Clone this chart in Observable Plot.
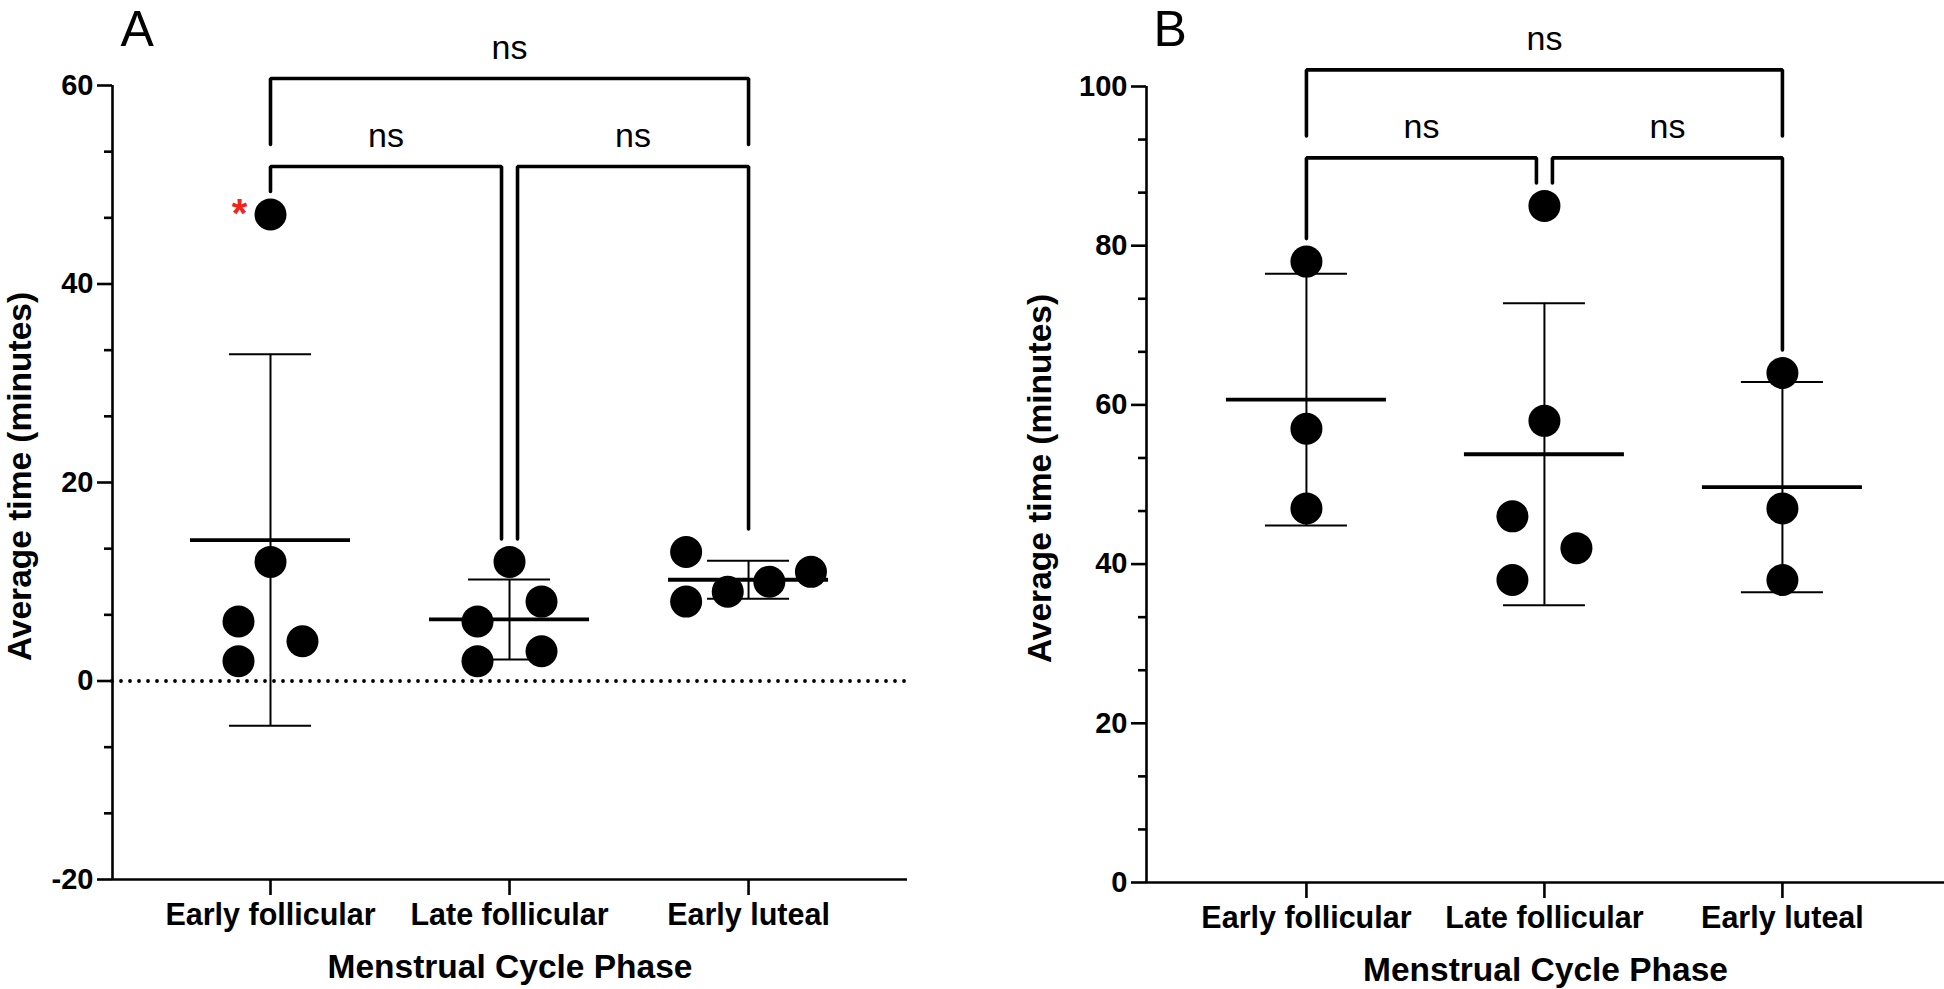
<!DOCTYPE html>
<html>
<head>
<meta charset="utf-8">
<script src="https://cdn.jsdelivr.net/npm/d3@7"></script>
<script src="https://cdn.jsdelivr.net/npm/@observablehq/plot@0.6"></script>
<style>
  body { margin: 0; background: #fff; }
  #wrap { position: relative; width: 1944px; height: 989px; overflow: hidden; background: #fff; }
  .panel { position: absolute; top: 0; width: 972px; height: 989px; }
</style>
</head>
<body>
<div id="wrap">
  <div id="pa" class="panel" style="left:0px"></div>
  <div id="pb" class="panel" style="left:972px"></div>
</div>
<script>
// ---------------- data ----------------
const phases = ["Early follicular", "Late follicular", "Early luteal"];

// Panel A — average time (minutes)
const aEarlyFollicular = [47, 12, 6, 4, 2];
const aLateFollicular  = [12, 8, 6, 3, 2];
const aEarlyLuteal     = [13, 11, 10, 9, 8];

// Panel B — average time (minutes)
const bEarlyFollicular = [78, 57, 47];
const bLateFollicular  = [85, 58, 46, 42, 38];
const bEarlyLuteal     = [64, 47, 38];

const aYTicks = [-20, 0, 20, 40, 60];
const bYTicks = [0, 20, 40, 60, 80, 100];

const comparisons = [[0, 1], [1, 2], [0, 2]];
const comparisonLabels = ["ns", "ns", "ns"];
const aFlagged = [[0, 47]];   // [group, value] marked with a red asterisk
const bFlagged = [];

const yTitle = "Average time (minutes)";
const xTitle = "Menstrual Cycle Phase";

// ---------------- helpers ----------------
const FONT = "'Liberation Sans', Arial, Helvetica, sans-serif";
const R = 16;

// PRISM-like scatter arrangement: clusters of overlapping points zig-zag,
// dense clusters are spread over several columns.
function layoutGroup(values, gi, pxX, pxY) {
  const pts = values.map(v => ({gi, value: v, off: 0}));
  const sorted = pts.slice().sort((a, b) => a.value - b.value);
  const thr = 2 * R * 1.06;
  const clusters = [];
  let cur = [sorted[0]];
  for (let k = 1; k < sorted.length; k++) {
    if ((sorted[k].value - sorted[k - 1].value) * pxY < thr) cur.push(sorted[k]);
    else { clusters.push(cur); cur = [sorted[k]]; }
  }
  clusters.push(cur);
  const collides = (c) => {
    for (let i = 0; i < c.length; i++) for (let j = i + 1; j < c.length; j++) {
      const dx = c[i].off - c[j].off, dy = (c[i].value - c[j].value) * pxY;
      if (Math.hypot(dx, dy) < 2 * R - 0.5) return true;
    }
    return false;
  };
  for (const c of clusters) {
    if (c.length === 1) { c[0].off = 0; continue; }
    c.forEach((p, k) => p.off = (k % 2 === 0 ? -1 : 1) * 2 * R);
    if (!collides(c)) continue;
    const s = 2.6 * R;
    for (let n = 3; n <= c.length; n++) {
      c.forEach((p, k) => p.off = ((k % n) - (n - 1) / 2) * s);
      if (!collides(c)) break;
    }
  }
  return pts.map(p => ({gi: p.gi, value: p.value, x: p.gi + p.off / pxX}));
}

function drawPanel(el, cfg) {
  const W = 972, H = 989;
  const {ml, mr, mt, mb, xDomain, yDomain, groups, yTicks, letter, letterDx, letterDy,
         zeroLine, flagged, yTitleDx} = cfg;
  const pxX = (W - ml - mr) / (xDomain[1] - xDomain[0]);
  const pxY = (H - mt - mb) / (yDomain[1] - yDomain[0]);

  const points = groups.flatMap((vals, gi) => layoutGroup(vals, gi, pxX, pxY));
  const stats = groups.map((vals, gi) => {
    const m = d3.mean(vals), s = d3.deviation(vals);
    return {gi, mean: m, lo: m - s, hi: m + s};
  });
  const step = (yTicks[1] - yTicks[0]) / 3;
  const minor = d3.range(yDomain[0], yDomain[1] + step / 2, step)
    .filter(v => !yTicks.some(t => Math.abs(t - v) < 1e-6));

  // significance brackets, stacked above the data
  const tops = groups.map(v => d3.max(v) + R / pxY);
  const legEnd = tops.map(t => t + 7 / pxY);
  const lowerH = d3.max(tops) + 32 / pxY;
  const upperLegEnd = lowerH + 22 / pxY;
  const upperH = lowerH + 88 / pxY;
  const delta = 8 / pxX;
  const bracketPts = [], bracketLabels = [];
  comparisons.forEach(([a, b], k) => {
    const level = b - a - 1;
    const h = level === 0 ? lowerH : upperH;
    const same = comparisons.filter(([c, d]) => d - c - 1 === level);
    const xa = a + (same.some(([c, d]) => d === a) ? delta : 0);
    const xb = b - (same.some(([c, d]) => c === b) ? delta : 0);
    const ya = level === 0 ? legEnd[a] : upperLegEnd;
    const yb = level === 0 ? legEnd[b] : upperLegEnd;
    bracketPts.push({k, x: xa, y: ya}, {k, x: xa, y: h}, {k, x: xb, y: h}, {k, x: xb, y: yb});
    bracketLabels.push({x: (xa + xb) / 2, y: h + 20 / pxY, text: comparisonLabels[k]});
  });

  const flagPts = flagged.map(([g, v]) => points.find(p => p.gi === g && p.value === v)).filter(Boolean);

  const marks = [
    // axis lines
    Plot.ruleX([xDomain[0]], {y1: yDomain[0], y2: yDomain[1], strokeWidth: 2.6}),
    Plot.ruleY([yDomain[0]], {x1: xDomain[0], x2: xDomain[1], strokeWidth: 2.6}),
    Plot.axisY(yTicks, {tickSize: 15, tickPadding: 4, tickFormat: d => String(d),
      fontSize: 29, fontWeight: "bold", strokeWidth: 2.6, label: null}),
    Plot.axisY(minor, {tickSize: 8, tickFormat: () => "", strokeWidth: 2.6, label: null}),
    Plot.axisX(d3.range(phases.length), {tickSize: 16, tickPadding: 8, tickFormat: i => phases[i],
      fontSize: 30.5, fontWeight: "bold", strokeWidth: 2.6, label: null}),
  ];
  if (zeroLine) {
    marks.push(Plot.ruleY([0], {x1: xDomain[0], x2: xDomain[1], strokeWidth: 3.8,
      strokeDasharray: "0,9", strokeLinecap: "round"}));
  }
  marks.push(
    // mean ± SD
    Plot.ruleX(stats, {x: "gi", y1: "lo", y2: "hi", strokeWidth: 2}),
    Plot.ruleY(stats, {y: "hi", x1: d => d.gi - 41 / pxX, x2: d => d.gi + 41 / pxX, strokeWidth: 2}),
    Plot.ruleY(stats, {y: "lo", x1: d => d.gi - 41 / pxX, x2: d => d.gi + 41 / pxX, strokeWidth: 2}),
    Plot.ruleY(stats, {y: "mean", x1: d => d.gi - 80 / pxX, x2: d => d.gi + 80 / pxX, strokeWidth: 3.8}),
    // individual values
    Plot.dot(points, {x: "x", y: "value", r: R, fill: "black", stroke: "none"}),
    // outlier asterisk
    Plot.text(flagPts, {x: "x", y: "value", text: () => "*", dx: -31, dy: 12, lineAnchor: "bottom",
      fill: "#f2231b", fontSize: 40, fontWeight: "bold"}),
    // brackets
    Plot.line(bracketPts, {x: "x", y: "y", z: "k", strokeWidth: 3.6, strokeLinejoin: "miter",
      strokeLinecap: "round", curve: "linear"}),
    Plot.text(bracketLabels, {x: "x", y: "y", text: "text", lineAnchor: "bottom",
      fontSize: 34, fontWeight: "normal"}),
    // titles
    Plot.text([yTitle], {frameAnchor: "left", dx: yTitleDx, dy: -6, rotate: -90, textAnchor: "middle",
      lineAnchor: "middle", fontSize: 33.5, fontWeight: "bold"}),
    Plot.text([xTitle], {frameAnchor: "bottom", dy: 98, lineAnchor: "bottom", textAnchor: "middle",
      fontSize: 33.5, fontWeight: "bold"}),
    Plot.text([letter], {frameAnchor: "top-left", dx: letterDx, dy: letterDy, textAnchor: "start",
      lineAnchor: "bottom", fontSize: 50, fontWeight: "normal"})
  );

  const chart = Plot.plot({
    width: W, height: H,
    marginLeft: ml, marginRight: mr, marginTop: mt, marginBottom: mb,
    x: {type: "linear", domain: xDomain},
    y: {type: "linear", domain: yDomain},
    style: {fontFamily: FONT, background: "white", overflow: "visible", color: "black"},
    marks
  });
  el.appendChild(chart);
}

drawPanel(document.getElementById("pa"), {
  ml: 112, mr: 65, mt: 85, mb: 110,
  xDomain: [-0.661, 2.665], yDomain: [-20, 60],
  groups: [aEarlyFollicular, aLateFollicular, aEarlyLuteal],
  yTicks: aYTicks, letter: "A", letterDx: 8, letterDy: -39.5,
  zeroLine: true, flagged: aFlagged, yTitleDx: -92
});

drawPanel(document.getElementById("pb"), {
  ml: 174, mr: 0, mt: 86, mb: 107,
  xDomain: [-0.672, 2.681], yDomain: [0, 100],
  groups: [bEarlyFollicular, bLateFollicular, bEarlyLuteal],
  yTicks: bYTicks, letter: "B", letterDx: 7, letterDy: -40.5,
  zeroLine: false, flagged: bFlagged, yTitleDx: -106
});
</script>
</body>
</html>
